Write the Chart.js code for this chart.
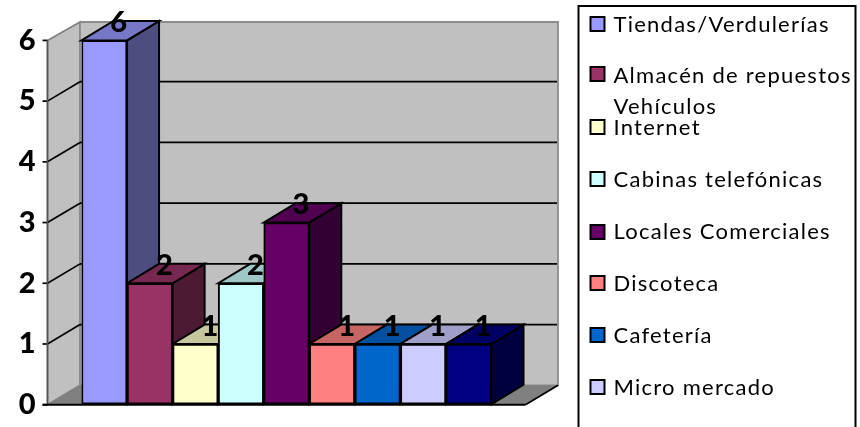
<!DOCTYPE html>
<html lang="es">
<head>
<meta charset="utf-8">
<title>Chart</title>
<style>
html,body{margin:0;padding:0;background:#fff;width:860px;height:427px;overflow:hidden}
#wrap{position:absolute;left:0;top:0;width:860px;height:427px}
</style>
<script src="https://cdn.jsdelivr.net/npm/chart.js@4"></script>
</head>
<body>
<div id="wrap"><canvas id="c" width="860" height="427"></canvas></div>
<script>
const categories = ["Tiendas/Verdulerías", ["Almacén de repuestos", "Vehículos"], "Internet", "Cabinas telefónicas", "Locales Comerciales", "Discoteca", "Cafetería", "Micro mercado", ""];
const values = [6, 2, 1, 2, 3, 1, 1, 1, 1];
const barColors = ["#9999FF", "#993366", "#FFFFCC", "#CCFFFF", "#660066", "#FF8080", "#0066CC", "#CCCCFF", "#000080"];
const yTicks = [0, 1, 2, 3, 4, 5, 6];

const legendRows = [24.5, 76, 128, 180, 232, 284, 336, 388];
const legendSwatchRows = [24, 74, 127, 179, 232, 283, 335, 387];
const DX = 32, DY = 19.4, WALL_DX = 32.5;
const LEFT = 47.5, FRONT_RIGHT = 525.5;

function shade(hex, f) {
  const n = parseInt(hex.slice(1), 16);
  const c = [(n >> 16) & 255, (n >> 8) & 255, n & 255].map(v => Math.round(v * f));
  return `rgb(${c[0]},${c[1]},${c[2]})`;
}
function poly(ctx, pts, fill, stroke, lw) {
  ctx.beginPath();
  pts.forEach((p, i) => i ? ctx.lineTo(p[0], p[1]) : ctx.moveTo(p[0], p[1]));
  ctx.closePath();
  if (fill) { ctx.fillStyle = fill; ctx.fill(); }
  if (stroke) { ctx.strokeStyle = stroke; ctx.lineWidth = lw; ctx.stroke(); }
}
function line(ctx, x1, y1, x2, y2, color, lw) {
  ctx.beginPath(); ctx.moveTo(x1, y1); ctx.lineTo(x2, y2);
  ctx.strokeStyle = color; ctx.lineWidth = lw; ctx.stroke();
}

const scene = {
  id: 'scene',
  beforeDatasetsDraw(chart) {
    const ctx = chart.ctx, y = chart.scales.y;
    const y0 = y.getPixelForValue(0), yTop = y.getPixelForValue(6);
    const bx = LEFT + WALL_DX, bRight = FRONT_RIGHT + WALL_DX;
    ctx.save();
    // side wall, back wall, floor
    poly(ctx, [[LEFT, y0], [LEFT, yTop], [bx, yTop - DY + 1], [bx, y0 - DY]], '#C0C0C0', '#808080', 1.7);
    poly(ctx, [[bx, yTop - DY + 1], [bRight, yTop - DY + 1], [bRight, y0 - DY], [bx, y0 - DY]], '#C0C0C0', '#8c8c8c', 1.8);
    poly(ctx, [[LEFT, y0], [bx, y0 - DY], [bRight, y0 - DY], [FRONT_RIGHT, y0]], '#808080');
    line(ctx, FRONT_RIGHT, y0, bRight, y0 - DY, '#000', 1.7);
    // grid lines and tick marks
    yTicks.forEach(v => {
      const p = y.getPixelForValue(v);
      if (v > 0 && v < 6) {
        line(ctx, LEFT, p, bx, p - DY, '#000', 1.7);
        line(ctx, bx, p - DY, bRight - 1, p - DY, '#000', 1.7);
      }
      line(ctx, LEFT - 5, p, LEFT, p, '#000', 1.7);
    });
    line(ctx, LEFT, yTop, LEFT, y0, '#555', 1.6);
    // side and top faces of the columns, left to right
    chart.getDatasetMeta(0).data.forEach((b, i) => {
      const l = b.x - b.width / 2, r = b.x + b.width / 2, t = b.y, o = b.base;
      poly(ctx, [[r, t], [r + DX, t - DY], [r + DX, o - DY], [r, o]], shade(barColors[i], 0.5), '#000', 2);
      poly(ctx, [[l, t], [l + DX, t - DY], [r + DX, t - DY], [r, t]], shade(barColors[i], 0.78), '#000', 2);
    });
    ctx.restore();
  },
  afterDatasetsDraw(chart) {
    const ctx = chart.ctx, y = chart.scales.y;
    const y0 = y.getPixelForValue(0);
    ctx.save();
    line(ctx, LEFT - 5, y0, FRONT_RIGHT, y0, '#000', 2);
    // value labels
    ctx.font = '900 29px Lato';
    ctx.textAlign = 'center'; ctx.textBaseline = 'middle'; ctx.fillStyle = '#000';
    chart.getDatasetMeta(0).data.forEach((b, i) => {
      ctx.fillText(String(values[i]), b.x + 14.5, b.y - 17.5);
    });
    // legend box, its lower edge runs off the picture
    ctx.strokeStyle = '#000'; ctx.lineWidth = 2;
    ctx.beginPath(); ctx.moveTo(578.5, 428); ctx.lineTo(578.5, 6); ctx.lineTo(855.5, 6); ctx.lineTo(855.5, 428); ctx.stroke();
    ctx.font = '22px Lato';
    ctx.textAlign = 'left'; ctx.fillStyle = '#000';
    ctx.letterSpacing = '1.25px';
    legendRows.forEach((ry, i) => {
      const sy = legendSwatchRows[i];
      ctx.fillStyle = barColors[i]; ctx.fillRect(590.5, sy - 7, 14, 14);
      ctx.strokeStyle = '#000'; ctx.lineWidth = 2; ctx.strokeRect(590.5, sy - 7, 14, 14);
      ctx.fillStyle = '#000';
      const label = categories[i];
      if (Array.isArray(label)) {
        ctx.fillText(label[0], 613.5, ry);
        ctx.fillText(label[1], 613.5, ry + 31);
      } else {
        ctx.fillText(label, 613.5, ry);
      }
    });
    ctx.restore();
  }
};

new Chart(document.getElementById('c'), {
  type: 'bar',
  data: {
    labels: categories,
    datasets: [{
      data: values,
      backgroundColor: barColors,
      borderColor: '#000',
      borderWidth: 2,
      borderSkipped: false,
      barPercentage: 1,
      categoryPercentage: 1
    }]
  },
  plugins: [scene],
  options: {
    responsive: false,
    animation: false,
    devicePixelRatio: 1,
    layout: { padding: { left: 0, right: 368.5, top: 40.4, bottom: 22.3 } },
    plugins: { legend: { display: false }, tooltip: { enabled: false }, title: { display: false } },
    scales: {
      x: { offset: true, afterFit(s) { s.height = 0; }, ticks: { display: false }, grid: { display: false }, border: { display: false } },
      y: {
        min: 0, max: 6,
        afterFit(s) { s.width = 81.5; s.paddingBottom = 0; s.paddingTop = 0; },
        ticks: {
          stepSize: 1, padding: 0, color: '#000',
          font: { family: 'Lato', weight: '900', size: 29 }
        },
        grid: { display: true, drawTicks: true, tickLength: 46, color: 'transparent', drawOnChartArea: false },
        border: { display: false }
      }
    }
  }
});
</script>
</body>
</html>
